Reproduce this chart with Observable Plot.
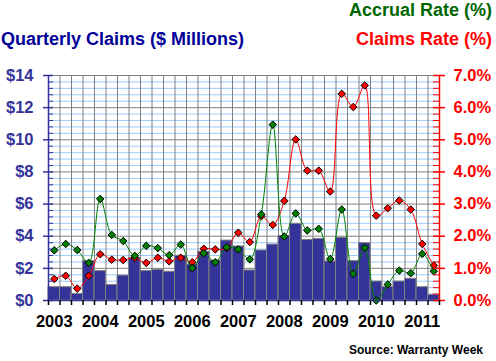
<!DOCTYPE html>
<html>
<head>
<meta charset="utf-8">
<script src="https://cdn.jsdelivr.net/npm/d3@7"></script>
<script src="https://cdn.jsdelivr.net/npm/@observablehq/plot@0.6"></script>
<style>
  html, body { margin: 0; padding: 0; background: #fff; }
  #wrap { position: relative; width: 496px; height: 361px; font-family: "Liberation Sans", Arial, sans-serif; font-weight: bold; }
  .t { position: absolute; white-space: nowrap; }
</style>
</head>
<body>
<div id="wrap">
  <div class="t" style="right:4px;top:1px;font-size:18px;line-height:18px;color:#006600">Accrual Rate (%)</div>
  <div class="t" style="left:1px;top:30px;font-size:18px;line-height:18px;color:#000099">Quarterly Claims ($ Millions)</div>
  <div class="t" style="right:4px;top:30px;font-size:18px;line-height:18px;color:#ff0000">Claims Rate (%)</div>
  <div class="t" style="right:13px;top:344px;font-size:12px;line-height:12px;color:#000">Source: Warranty Week</div>
</div>
<script>
// Quarters 2003 Q1 .. 2011 Q2
const yearLabels = ["2003","2004","2005","2006","2007","2008","2009","2010","2011"];
const quarterLabels = ["Q1","Q2","Q3","Q4"];
// Quarterly claims ($ millions)
const claims = [0.83,0.83,0.41,2.45, 1.83,0.97,1.55,2.65, 1.83,1.91,1.79,2.78, 2.24,3.03,2.49,3.73,
                3.36,1.87,3.11,3.48, 4.02,4.77,3.77,3.83, 2.43,3.90,2.45,3.57, 1.18,0.83,1.18,1.35, 0.83,0.35];
// Claims rate (%)
const claimsRate = [0.67,0.77,0.37,0.77, 1.44,1.27,1.26,1.32, 1.17,1.33,1.22,1.33, 1.19,1.61,1.59,1.63,
                    2.11,1.82,2.62,2.35, 3.10,5.01,4.04,4.04, 3.39,6.43,6.02,6.69, 2.64,2.87,3.11,2.83, 1.76,1.09];
// Accrual rate (%)
const accrualRate = [1.56,1.76,1.57,1.17, 3.16,2.04,1.85,1.39, 1.70,1.63,1.41,1.74, 1.01,1.47,1.19,1.66,
                     1.59,1.28,2.68,5.47, 1.99,2.71,2.18,2.23, 1.29,2.83,0.83,1.64, 0.00,0.50,0.93,0.85, 1.45,0.91];
// Axis ticks
const dollarTicks = [0,2,4,6,8,10,12,14];
const percentTicks = [0,1,2,3,4,5,6,7];

const data = claims.map((c, i) => ({
  i,
  label: yearLabels[Math.floor(i / 4)] + " " + quarterLabels[i % 4],
  claims: c,
  claimsRate: claimsRate[i],
  accrualRate: accrualRate[i]
}));

const n = data.length;
const ratio = 2; // $14 <-> 7%
const minorTicks = d3.range(0, 14.0001, 0.4).map(v => +v.toFixed(2)).filter(v => !dollarTicks.includes(v));
const navy = "#333399";
const red = "#ff0000";
const green = "#008000";
const innerW = 496 - 48 - 57;
const innerH = 361 - 75 - 61;

const chart = Plot.plot({
  width: 496,
  height: 361,
  marginLeft: 48,
  marginRight: 57,
  marginTop: 75,
  marginBottom: 61,
  x: {domain: [0, n], axis: null, label: null},
  y: {domain: [0, 14], axis: null, label: null},
  style: {fontFamily: "Liberation Sans, Arial, sans-serif", fontSize: "16.5px", fontWeight: "bold", background: "transparent", overflow: "visible"},
  marks: [
    // grid
    Plot.ruleY(minorTicks, {stroke: "#99ccff", strokeWidth: 1}),
    Plot.ruleY(dollarTicks, {stroke: "#808080", strokeWidth: 1}),
    Plot.ruleX(d3.range(0, n + 1), {stroke: "#808080", strokeWidth: 1}),
    // bars
    Plot.rectY(data, {x1: "i", x2: d => d.i + 1, y: "claims", fill: navy, stroke: "#808080", strokeWidth: 1}),
    // claims rate
    Plot.line(data, {x: d => d.i + 0.5, y: d => d.claimsRate * ratio, curve: "catmull-rom", stroke: red, strokeWidth: 1}),
    Plot.dot(data, {x: d => d.i + 0.5, y: d => d.claimsRate * ratio, symbol: "diamond2", r: 3.4, fill: red, stroke: "#000", strokeWidth: 1}),
    // accrual rate
    Plot.line(data, {x: d => d.i + 0.5, y: d => d.accrualRate * ratio, curve: "catmull-rom", stroke: green, strokeWidth: 1}),
    Plot.dot(data, {x: d => d.i + 0.5, y: d => d.accrualRate * ratio, symbol: "diamond2", r: 3.4, fill: green, stroke: "#000", strokeWidth: 1}),
    // axis lines
    Plot.ruleY([0], {stroke: navy, strokeWidth: 1.5}),
    Plot.ruleX([0], {stroke: navy, strokeWidth: 1.5}),
    Plot.ruleX([n], {stroke: red, strokeWidth: 1.5}),
    // left ticks
    Plot.ruleY(minorTicks, {stroke: navy, strokeWidth: 1, insetRight: innerW - 5}),
    Plot.ruleY(dollarTicks, {stroke: navy, strokeWidth: 1.5, insetRight: innerW - 10, dx: -5}),
    // right ticks
    Plot.ruleY(minorTicks, {stroke: red, strokeWidth: 1, insetLeft: innerW - 6}),
    Plot.ruleY(dollarTicks, {stroke: red, strokeWidth: 1.5, insetLeft: innerW - 12, dx: 6}),
    // bottom ticks
    Plot.ruleX(d3.range(0, n + 1), {stroke: "#000", strokeWidth: 1.5, insetTop: innerH - 5, dy: 5}),
    // labels
    Plot.axisY({anchor: "left", label: null, ticks: dollarTicks, tickSize: 0, tickPadding: 15, tickFormat: d => "$" + d, fill: navy}),
    Plot.axisY({anchor: "right", label: null, ticks: percentTicks.map(p => p * ratio), tickSize: 0, tickPadding: 14, tickFormat: d => (d / ratio).toFixed(1) + "%", fill: red}),
    Plot.axisX({anchor: "bottom", label: null, ticks: yearLabels.map((y, k) => k * 4 + 0.5), tickSize: 0, tickPadding: 15, tickFormat: v => yearLabels[(v - 0.5) / 4], fill: "#000"})
  ]
});
chart.style.position = "absolute";
chart.style.left = "0";
chart.style.top = "0";
document.getElementById("wrap").prepend(chart);
</script>
</body>
</html>
